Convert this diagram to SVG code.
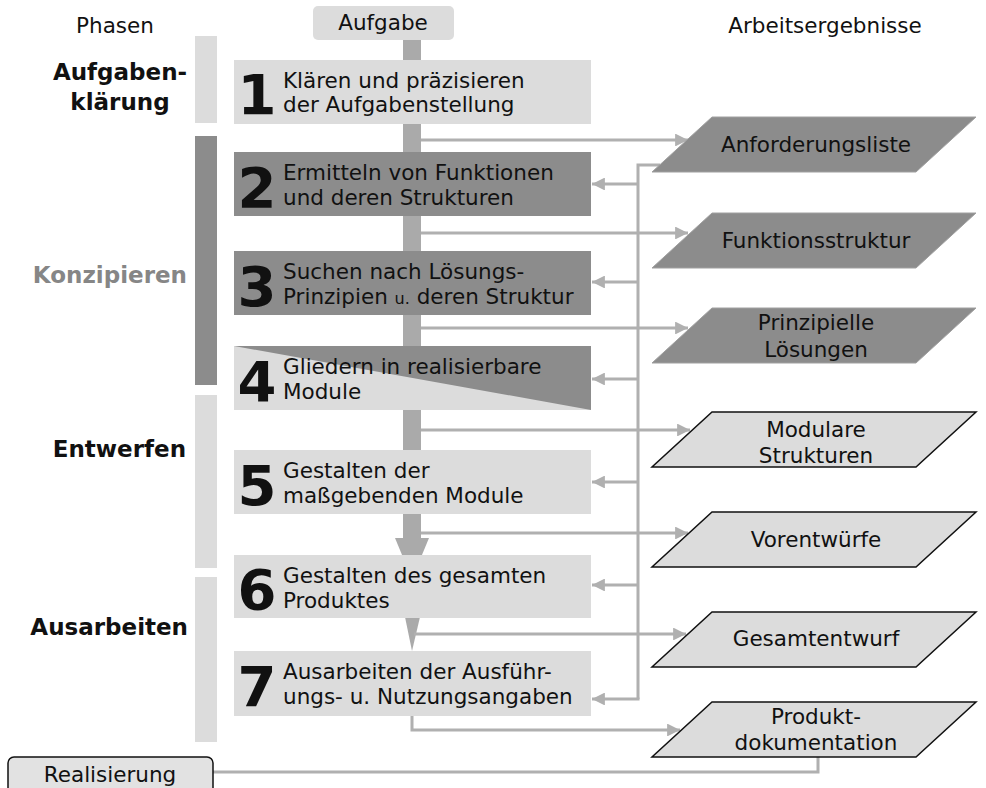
<svg xmlns="http://www.w3.org/2000/svg" width="986" height="788" viewBox="0 0 986 788">
<defs>
<style>
text{font-family:"DejaVu Sans","Verdana",sans-serif;fill:#111}
.t{font-size:21.5px}
.ph{font-size:23px;font-weight:bold}
.num{font-size:56px;font-weight:bold;text-anchor:middle}
.c{text-anchor:middle}
.light{fill:#dcdcdc}
.dark{fill:#8c8c8c}
.pd{fill:#8c8c8c;stroke:#a0a0a0;stroke-width:1}
.pl{fill:#dcdcdc;stroke:#111;stroke-width:1.5}
.ln{fill:none;stroke:#b0b0b0;stroke-width:3}
.trunk{fill:#aaaaaa}
</style>
<marker id="ah" viewBox="0 0 10 10" refX="10" refY="5" markerWidth="4.3" markerHeight="4.3" markerUnits="strokeWidth" orient="auto">
<path d="M0,0 L10,5 L0,10 z" fill="#b0b0b0"/>
</marker>
</defs>

<!-- headers -->
<g id="headers">
<text class="t c" x="115" y="33">Phasen</text>
<text class="t c" x="825" y="33">Arbeitsergebnisse</text>
</g>

<!-- phases -->
<g id="phase-aufgabenklaerung">
<rect class="light" x="195" y="36" width="22" height="87"/>
<text class="ph c" x="120" y="80">Aufgaben-</text>
<text class="ph c" x="120" y="110">klärung</text>
</g>
<g id="phase-konzipieren">
<rect class="dark" x="195" y="136" width="22" height="249"/>
<text class="ph" x="187" y="283" text-anchor="end" style="fill:#868686">Konzipieren</text>
</g>
<g id="phase-entwerfen">
<rect class="light" x="195" y="395" width="22" height="173"/>
<text class="ph" x="186" y="457" text-anchor="end">Entwerfen</text>
</g>
<g id="phase-ausarbeiten">
<rect class="light" x="195" y="577" width="22" height="165"/>
<text class="ph" x="188" y="635" text-anchor="end">Ausarbeiten</text>
</g>

<!-- main trunk -->
<g id="trunk">
<rect class="trunk" x="403" y="40" width="18" height="500"/>
<polygon class="trunk" points="395,538 429,538 412,579"/>
<polygon class="trunk" points="405,617 420,617 412,651"/>
</g>

<!-- connectors -->
<g id="connectors">
<line class="ln" x1="421" y1="140" x2="688" y2="140" marker-end="url(#ah)"/>
<line class="ln" x1="421" y1="233" x2="688" y2="233" marker-end="url(#ah)"/>
<line class="ln" x1="421" y1="328" x2="688" y2="328" marker-end="url(#ah)"/>
<line class="ln" x1="421" y1="430" x2="690" y2="430" marker-end="url(#ah)"/>
<line class="ln" x1="421" y1="533" x2="688" y2="533" marker-end="url(#ah)"/>
<line class="ln" x1="414" y1="634" x2="686" y2="634" marker-end="url(#ah)"/>
<polyline class="ln" points="412,716 412,730 680,730" marker-end="url(#ah)"/>
<polyline class="ln" points="660,165 638,165 638,699"/>
<line class="ln" x1="638" y1="184" x2="592" y2="184" marker-end="url(#ah)"/>
<line class="ln" x1="638" y1="282" x2="592" y2="282" marker-end="url(#ah)"/>
<line class="ln" x1="638" y1="379" x2="592" y2="379" marker-end="url(#ah)"/>
<line class="ln" x1="638" y1="482" x2="592" y2="482" marker-end="url(#ah)"/>
<line class="ln" x1="638" y1="585" x2="592" y2="585" marker-end="url(#ah)"/>
<line class="ln" x1="639.5" y1="699" x2="592" y2="699" marker-end="url(#ah)"/>
<polyline class="ln" points="818,757 818,772 213,772"/>
</g>

<!-- Aufgabe -->
<g id="aufgabe">
<rect class="light" x="313" y="6" width="141" height="34" rx="5"/>
<text class="t c" x="383" y="30">Aufgabe</text>
</g>

<!-- steps -->
<g id="step1">
<rect class="light" x="234" y="60" width="357" height="64"/>
<text class="num" x="257" y="114">1</text>
<text class="t" x="283" y="88">Klären und präzisieren</text>
<text class="t" x="283" y="112">der Aufgabenstellung</text>
</g>
<g id="step2">
<rect class="dark" x="234" y="152" width="357" height="64"/>
<text class="num" x="257" y="207">2</text>
<text class="t" x="283" y="180">Ermitteln von Funktionen</text>
<text class="t" x="283" y="205">und deren Strukturen</text>
</g>
<g id="step3">
<rect class="dark" x="234" y="251" width="357" height="64"/>
<text class="num" x="257" y="306">3</text>
<text class="t" x="283" y="279">Suchen nach Lösungs-</text>
<text class="t" x="283" y="304">Prinzipien <tspan style="font-size:16px">u.</tspan> deren Struktur</text>
</g>
<g id="step4">
<rect class="light" x="234" y="346" width="357" height="64"/>
<polygon class="dark" points="234,346 591,346 591,410"/>
<text class="num" x="257" y="401">4</text>
<text class="t" x="283" y="374">Gliedern in realisierbare</text>
<text class="t" x="283" y="399">Module</text>
</g>
<g id="step5">
<rect class="light" x="234" y="450" width="357" height="64"/>
<text class="num" x="257" y="505">5</text>
<text class="t" x="283" y="478">Gestalten der</text>
<text class="t" x="283" y="503">maßgebenden Module</text>
</g>
<g id="step6">
<rect class="light" x="234" y="555" width="357" height="63"/>
<text class="num" x="257" y="609">6</text>
<text class="t" x="283" y="583">Gestalten des gesamten</text>
<text class="t" x="283" y="608">Produktes</text>
</g>
<g id="step7">
<rect class="light" x="234" y="651" width="357" height="65"/>
<text class="num" x="257" y="706">7</text>
<text class="t" x="283" y="679">Ausarbeiten der Ausführ-</text>
<text class="t" x="283" y="704">ungs- u. Nutzungsangaben</text>
</g>

<!-- results -->
<g id="res-anforderungsliste">
<polygon class="pd" points="712,117 976,117 916,172 652,172"/>
<text class="t c" x="816" y="152">Anforderungsliste</text>
</g>
<g id="res-funktionsstruktur">
<polygon class="pd" points="712,213 976,213 916,268 652,268"/>
<text class="t c" x="816" y="248">Funktionsstruktur</text>
</g>
<g id="res-prinzipielle">
<polygon class="pd" points="712,308 976,308 916,363 652,363"/>
<text class="t c" x="816" y="330">Prinzipielle</text>
<text class="t c" x="816" y="357">Lösungen</text>
</g>
<g id="res-modulare">
<polygon class="pl" points="712,412 976,412 916,467 652,467"/>
<text class="t c" x="816" y="437">Modulare</text>
<text class="t c" x="816" y="463">Strukturen</text>
</g>
<g id="res-vorentwuerfe">
<polygon class="pl" points="712,512 976,512 916,567 652,567"/>
<text class="t c" x="816" y="547">Vorentwürfe</text>
</g>
<g id="res-gesamtentwurf">
<polygon class="pl" points="712,612 976,612 916,667 652,667"/>
<text class="t c" x="816" y="646">Gesamtentwurf</text>
</g>
<g id="res-produktdoku">
<polygon class="pl" points="712,702 976,702 916,757 652,757"/>
<text class="t c" x="816" y="724">Produkt-</text>
<text class="t c" x="816" y="750">dokumentation</text>
</g>

<!-- Realisierung -->
<g id="realisierung">
<rect x="8" y="757" width="205" height="40" rx="6" fill="#e2e2e2" stroke="#111" stroke-width="1.5"/>
<text class="t c" x="110" y="782">Realisierung</text>
</g>
</svg>
